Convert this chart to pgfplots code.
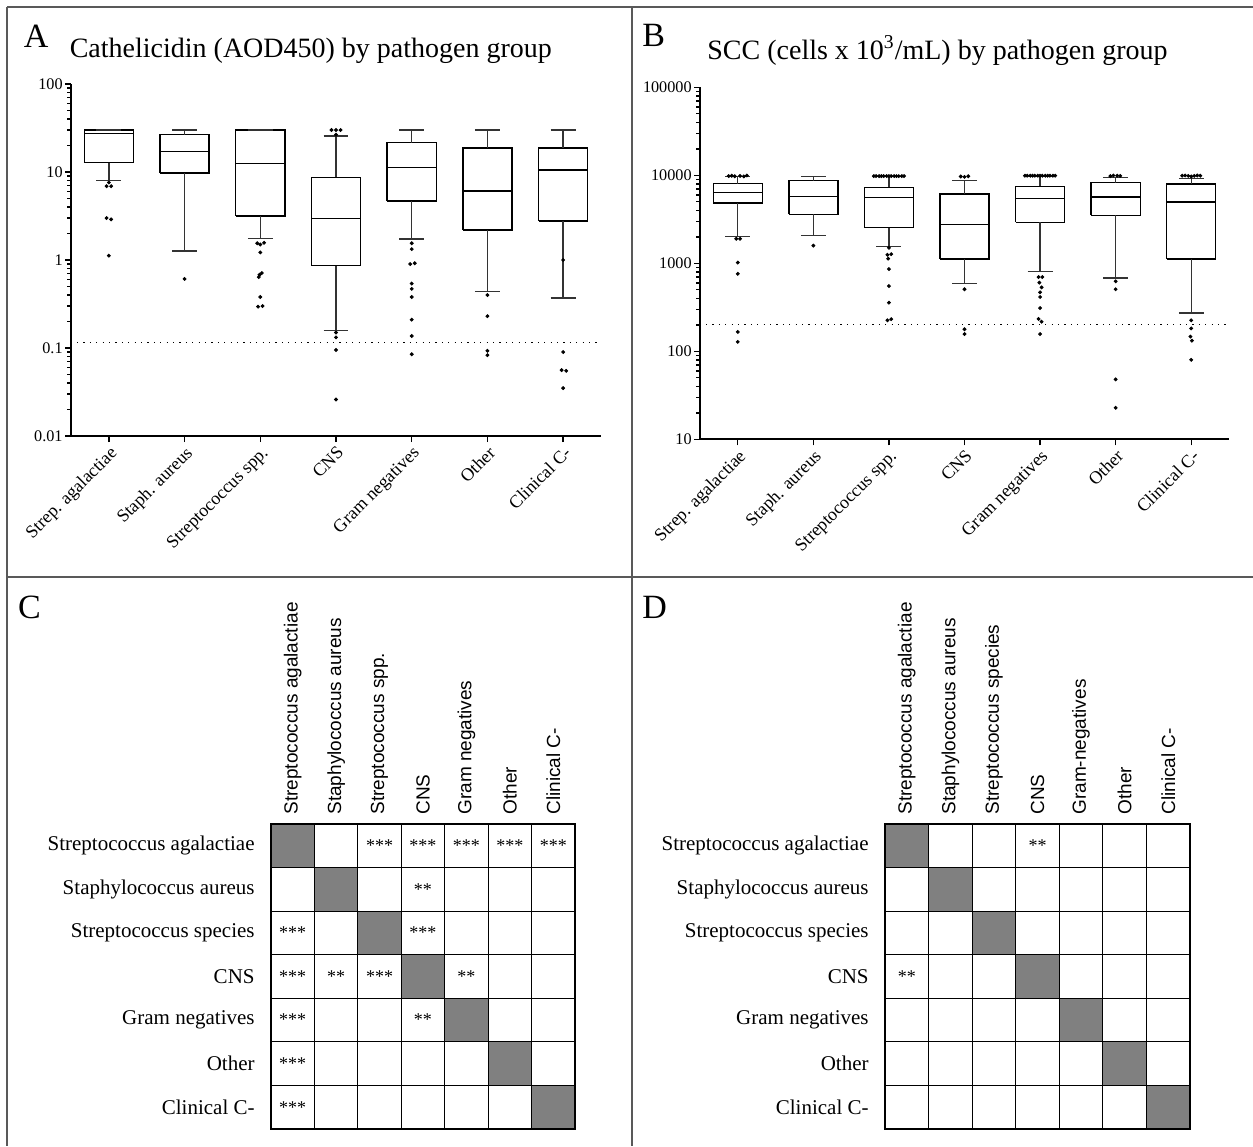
\documentclass[border=0pt]{standalone}
\usepackage{fontspec}
\setmainfont{Liberation Serif}
\newfontfamily\sansf{Liberation Sans}
\usepackage{pgfplots}
\pgfplotsset{compat=1.18}
\definecolor{diag}{HTML}{808080}
\newcommand\tkf{\fontsize{8.1}{9}\selectfont}
\newcommand\catf{\fontsize{9}{10}\selectfont}
\newcommand\rowf{\fontsize{10.5}{12}\selectfont}
\newcommand\colf{\sansf\fontsize{9.5}{11}\selectfont}
\newcommand\astf{\fontsize{9}{10}\selectfont}
\newcommand\ttl{\fontsize{14}{16}\selectfont}
\newcommand\pnl{\fontsize{17}{19}\selectfont}
% box: position, lower whisker, lower quartile, median, upper quartile, upper whisker
\newcommand\bxp[6]{%
  \pgfmathsetmacro\xl{#1-0.325}\pgfmathsetmacro\xr{#1+0.325}%
  \pgfmathsetmacro\cl{#1-0.165}\pgfmathsetmacro\cr{#1+0.165}%
  \addplot[boxst] coordinates {(\xl,#3) (\xr,#3) (\xr,#5) (\xl,#5) (\xl,#3)};
  \addplot[boxst] coordinates {(\xl,#4) (\xr,#4)};
  \addplot[whst] coordinates {(#1,#5) (#1,#6)};
  \addplot[whst] coordinates {(\cl,#6) (\cr,#6)};
  \addplot[whst] coordinates {(#1,#3) (#1,#2)};
  \addplot[whst] coordinates {(\cl,#2) (\cr,#2)};
}
\pgfplotsset{
  boxst/.style={draw=black, line width=0.7pt, solid, mark=none, line join=miter},
  whst/.style={draw=black!80, line width=0.7pt, solid, mark=none},
  outl/.style={only marks, mark=*, mark size=0.75pt, black},
  boxaxis/.style={
    scale only axis,
    xmin=-0.5, xmax=6.5,
    axis x line*=bottom, axis y line*=left,
    axis line style={line width=1pt, black},
    tick align=outside,
    major tick length=3pt, minor tick length=2pt,
    every tick/.style={black, line width=0.7pt},
    xtick={0,...,6},
    xticklabels={Strep. agalactiae, Staph. aureus, Streptococcus spp., CNS, Gram negatives, Other, Clinical C-},
    xticklabel style={rotate=45, anchor=north east, font=\catf, inner sep=1pt},
    yticklabel style={font=\tkf, inner sep=1pt},
  },
  tabaxis/.style={
    scale only axis,
    xmin=0, xmax=7, ymin=0, ymax=7,
    xtick={0.5,1.5,...,6.5}, ytick={0.5,1.5,...,6.5},
    minor xtick={0,...,7}, minor ytick={0,...,7},
    major tick length=0pt, minor tick length=0pt,
    xminorgrids, yminorgrids,
    minor grid style={black, line width=0.6pt, solid},
    axis line style={black, line width=0.6pt},
    axis on top,
    xticklabel pos=upper,
    xticklabel style={rotate=90, anchor=west, font=\colf, inner sep=0pt, xshift=4.5pt},
    yticklabel style={font=\rowf, inner sep=0pt, xshift=-8pt},
  },
  ast/.style={draw=none, mark=none, nodes near coords, point meta=explicit symbolic,
    nodes near coords align={center},
    every node near coord/.append style={font=\astf, inner sep=0pt, anchor=center, black}},
}
\begin{document}
\begin{tikzpicture}
\path[use as bounding box] (0pt,0pt) rectangle (626.5pt,-573pt);
% frame
\draw[line width=0.8pt, black!65] (3.5pt,-3.5pt) -- (626.5pt,-3.5pt);
\draw[line width=0.8pt, black!65] (3.5pt,-3.5pt) -- (3.5pt,-573pt);
\draw[line width=0.8pt, black!65] (316pt,-3.5pt) -- (316pt,-573pt);
\draw[line width=0.8pt, black!65] (3.5pt,-288.5pt) -- (626.5pt,-288.5pt);
% panel letters and titles
\node[anchor=base west, inner sep=0pt, font=\pnl] at (11.8pt,-23.5pt) {A};
\node[anchor=base west, inner sep=0pt, font=\pnl] at (321pt,-23pt) {B};
\node[anchor=base west, inner sep=0pt, font=\pnl] at (8.9pt,-309.2pt) {C};
\node[anchor=base west, inner sep=0pt, font=\pnl] at (321pt,-309.2pt) {D};
\node[anchor=base west, inner sep=0pt, font=\ttl] at (34.7pt,-28.8pt) {Cathelicidin (AOD450) by pathogen group};
\node[anchor=base west, inner sep=0pt, font=\ttl] at (353.5pt,-29.7pt) {SCC (cells x 10\textsuperscript{3}/mL) by pathogen group};

% ---------------- Panel A
\begin{axis}[boxaxis, ymode=log, at={(35.5pt,-218pt)}, anchor=south west, width=265pt, height=176pt,
  ymin=0.01, ymax=100,
  ytick={0.01,0.1,1,10,100}, yticklabels={0.01,0.1,1,10,100},
  minor ytick={0.02,0.03,0.04,0.05,0.06,0.07,0.08,0.09,0.2,0.3,0.4,0.5,0.6,0.7,0.8,0.9,2,3,4,5,6,7,8,9,20,30,40,50,60,70,80,90},
]
\addplot[black, line width=0.6pt, dash pattern=on 0.6pt off 2.6pt] coordinates {(-0.42,0.115) (6.5,0.115)};
\bxp{0}{7.96}{12.8}{27.2}{30}{30}
\bxp{1}{1.26}{9.7}{17.2}{26.5}{30}
\bxp{2}{1.75}{3.16}{12.4}{30}{30}
\bxp{3}{0.157}{0.86}{2.95}{8.7}{25.6}
\bxp{4}{1.73}{4.68}{11.3}{21.5}{30}
\bxp{5}{0.44}{2.19}{6.1}{18.7}{30}
\bxp{6}{0.37}{2.77}{10.5}{18.7}{30}
\addplot[outl] coordinates {
(0,7.6) (-0.03,6.9) (0.03,6.9) (-0.03,3.0) (0.03,2.9) (0,1.12)
(1,0.61)
(1.96,1.55) (2,1.5) (2.05,1.57) (2,1.22) (2.02,0.71) (1.99,0.68) (1.98,0.64) (2,0.38) (1.97,0.295) (2.03,0.3)
(2.94,30) (3,30) (3.06,30) (3,26.5) (3,0.15) (3,0.132) (3,0.095) (3,0.026)
(4,1.55) (4,1.33) (3.98,0.90) (4.04,0.92) (4,0.54) (4,0.47) (4,0.38) (4,0.21) (4,0.137) (4,0.085)
(5,0.40) (5,0.23) (5,0.093) (5,0.083)
(6,1.0) (6,0.09) (5.98,0.056) (6.04,0.055) (6,0.035)
};
\end{axis}

% ---------------- Panel B
\begin{axis}[boxaxis, ymode=log, at={(350pt,-219.65pt)}, anchor=south west, width=264.5pt, height=176pt,
  ymin=10, ymax=100000,
  ytick={10,100,1000,10000,100000}, yticklabels={10,100,1000,10000,100000},
  minor ytick={20,30,40,50,60,70,80,90,200,300,400,500,600,700,800,900,2000,3000,4000,5000,6000,7000,8000,9000,20000,30000,40000,50000,60000,70000,80000,90000},
]
\addplot[black, line width=0.6pt, dash pattern=on 0.6pt off 2.6pt] coordinates {(-0.42,200) (6.5,200)};
\bxp{0}{2010}{4840}{6340}{8030}{9630}
\bxp{1}{2080}{3600}{5770}{8700}{9750}
\bxp{2}{1545}{2540}{5620}{7310}{9750}
\bxp{3}{587}{1120}{2780}{6140}{8700}
\bxp{4}{813}{2930}{5480}{7500}{9750}
\bxp{5}{680}{3510}{5660}{8250}{9480}
\bxp{6}{272}{1120}{4980}{7960}{9250}
\addplot[outl] coordinates {
(-0.12,9800) (-0.08,9900) (-0.04,9750) (0.03,9850) (0.08,9700) (0.12,9950)
(-0.02,1900) (0.03,1900) (0,1020) (0,760) (0,166) (0,128)
(1,1590)
(1.80,9800) (1.83,9800) (1.87,9800) (1.90,9800) (1.93,9800) (1.97,9800) (2.00,9800) (2.03,9800) (2.07,9800) (2.10,9800) (2.13,9800) (2.17,9800) (2.20,9800)
(2,1500) (1.98,1250) (2.03,1270) (1.99,1130) (2,860) (2,552) (2,357) (1.98,225) (2.03,232)
(2.95,9700) (3,9600) (3.05,9750) (3,507) (3,178) (3,157)
(3.80,9900) (3.83,9900) (3.87,9900) (3.90,9900) (3.93,9900) (3.97,9900) (4.00,9900) (4.03,9900) (4.07,9900) (4.10,9900) (4.13,9900) (4.17,9900) (4.20,9900)
(3.98,698) (4.03,698) (3.99,603) (4.02,533) (4,468) (4,414) (4,310) (3.98,233) (4.02,217) (4,157)
(4.93,9800) (4.97,9950) (5.02,9900) (5.06,9850) (5,624) (5,507) (5,48) (5,22.8)
(5.88,9900) (5.92,9950) (5.96,9850) (6.0,9700) (6.04,9850) (6.08,9950) (6.12,9900)
(6,225) (6,182) (5.99,147) (6.01,132) (6,80)
};
\end{axis}

% ---------------- Panel C
\begin{axis}[tabaxis, at={(135.5pt,-564.5pt)}, anchor=south west, width=152pt, height=152.5pt,
  xticklabels={Streptococcus agalactiae, Staphylococcus aureus, Streptococcus spp., CNS, Gram negatives, Other, Clinical C-},
  yticklabels={Clinical C-, Other, Gram negatives, CNS, Streptococcus species, Staphylococcus aureus, Streptococcus agalactiae},
]
\addplot[fill=diag, draw=none] coordinates {(0,6) (1,6) (1,7) (0,7)} -- cycle;
\addplot[fill=diag, draw=none] coordinates {(1,5) (2,5) (2,6) (1,6)} -- cycle;
\addplot[fill=diag, draw=none] coordinates {(2,4) (3,4) (3,5) (2,5)} -- cycle;
\addplot[fill=diag, draw=none] coordinates {(3,3) (4,3) (4,4) (3,4)} -- cycle;
\addplot[fill=diag, draw=none] coordinates {(4,2) (5,2) (5,3) (4,3)} -- cycle;
\addplot[fill=diag, draw=none] coordinates {(5,1) (6,1) (6,2) (5,2)} -- cycle;
\addplot[fill=diag, draw=none] coordinates {(6,0) (7,0) (7,1) (6,1)} -- cycle;
\addplot[ast] table[meta=t] {
x y t
2.5 6.5 ***
3.5 6.5 ***
4.5 6.5 ***
5.5 6.5 ***
6.5 6.5 ***
3.5 5.5 **
0.5 4.5 ***
3.5 4.5 ***
0.5 3.5 ***
1.5 3.5 **
2.5 3.5 ***
4.5 3.5 **
0.5 2.5 ***
3.5 2.5 **
0.5 1.5 ***
0.5 0.5 ***
};
\end{axis}

% ---------------- Panel D
\begin{axis}[tabaxis, at={(442.5pt,-564.5pt)}, anchor=south west, width=152.5pt, height=152.5pt,
  xticklabels={Streptococcus agalactiae, Staphylococcus aureus, Streptococcus species, CNS, Gram-negatives, Other, Clinical C-},
  yticklabels={Clinical C-, Other, Gram negatives, CNS, Streptococcus species, Staphylococcus aureus, Streptococcus agalactiae},
]
\addplot[fill=diag, draw=none] coordinates {(0,6) (1,6) (1,7) (0,7)} -- cycle;
\addplot[fill=diag, draw=none] coordinates {(1,5) (2,5) (2,6) (1,6)} -- cycle;
\addplot[fill=diag, draw=none] coordinates {(2,4) (3,4) (3,5) (2,5)} -- cycle;
\addplot[fill=diag, draw=none] coordinates {(3,3) (4,3) (4,4) (3,4)} -- cycle;
\addplot[fill=diag, draw=none] coordinates {(4,2) (5,2) (5,3) (4,3)} -- cycle;
\addplot[fill=diag, draw=none] coordinates {(5,1) (6,1) (6,2) (5,2)} -- cycle;
\addplot[fill=diag, draw=none] coordinates {(6,0) (7,0) (7,1) (6,1)} -- cycle;
\addplot[ast] table[meta=t] {
x y t
3.5 6.5 **
0.5 3.5 **
};
\end{axis}
\end{tikzpicture}
\end{document}
